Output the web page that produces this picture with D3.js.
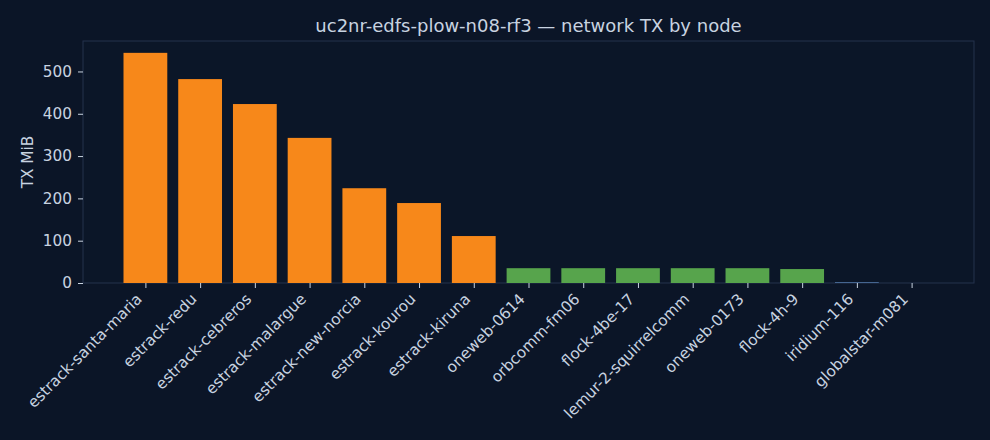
<!DOCTYPE html>
<html>
<head>
<meta charset="utf-8">
<script src="https://cdn.jsdelivr.net/npm/d3@7"></script>
<style>
  body { margin: 0; background: #0b1527; }
  svg text { font-family: "DejaVu Sans", sans-serif; fill: #c8d3e0; }
</style>
</head>
<body>
<div id="chart"></div>
<script>
// datos del grafico
var nodes = ["estrack-santa-maria", "estrack-redu", "estrack-cebreros", "estrack-malargue",
             "estrack-new-norcia", "estrack-kourou", "estrack-kiruna", "oneweb-0614",
             "orbcomm-fm06", "flock-4be-17", "lemur-2-squirrelcomm", "oneweb-0173",
             "flock-4h-9", "iridium-116", "globalstar-m081"];
var txMiB = [544, 482, 423, 343, 224, 189, 111, 35, 35, 35, 35, 35, 33, 2, 0];
var group = ["ground", "ground", "ground", "ground", "ground", "ground", "ground",
             "leo", "leo", "leo", "leo", "leo", "leo", "other", "other"];
var yTicks = [0, 100, 200, 300, 400, 500];

var width = 990;
var height = 440;
var margin = {top: 41, right: 16, bottom: 157, left: 83};

var colors = {ground: "#f7881a", leo: "#57a44c", other: "#4f72a0"};

var svg = d3.select("#chart")
            .append("svg")
            .attr("width", width)
            .attr("height", height);

svg.append("rect")
   .attr("width", width)
   .attr("height", height)
   .attr("fill", "#0b1527");

// escalas
var x = d3.scaleLinear()
          .domain([-1.14, 15.14])
          .range([margin.left, width - margin.right]);
var y = d3.scaleLinear()
          .domain([0, 572])
          .range([height - margin.bottom, margin.top]);

// marco del area
svg.append("rect")
   .attr("x", margin.left)
   .attr("y", margin.top)
   .attr("width", width - margin.left - margin.right)
   .attr("height", height - margin.top - margin.bottom)
   .attr("fill", "#0b1628")
   .attr("stroke", "#24324d")
   .attr("stroke-width", 1);

// barras
svg.append("g")
   .selectAll("rect")
   .data(txMiB)
   .enter()
   .append("rect")
   .attr("x", (d, i) => x(i - 0.4))
   .attr("width", (d, i) => x(i + 0.4) - x(i - 0.4))
   .attr("y", (d) => y(d))
   .attr("height", (d) => y(0) - y(d))
   .attr("fill", (d, i) => colors[group[i]]);

// eje y
var yAxis = svg.append("g")
               .attr("transform", `translate(${margin.left},0)`)
               .call(d3.axisLeft(y).tickValues(yTicks).tickSize(5).tickPadding(6));
yAxis.select(".domain").remove();
yAxis.selectAll("line").attr("stroke", "#c8d3e0");
yAxis.selectAll("text").style("font-size", "15.3px").attr("fill", "#c8d3e0");

// eje x
var xAxis = svg.append("g")
               .attr("transform", `translate(0,${height - margin.bottom})`)
               .call(d3.axisBottom(x)
                       .tickValues(d3.range(nodes.length))
                       .tickFormat((d) => nodes[d])
                       .tickSize(5));
xAxis.select(".domain").remove();
xAxis.selectAll("line").attr("stroke", "#c8d3e0");
xAxis.selectAll("text")
     .style("font-size", "15.3px")
     .attr("fill", "#c8d3e0")
     .attr("text-anchor", "end")
     .attr("x", 0)
     .attr("y", 0)
     .attr("dy", 0)
     .attr("transform", "translate(-3,17) rotate(-45)");

// titulo
svg.append("text")
   .attr("x", (margin.left + width - margin.right) / 2)
   .attr("y", 32)
   .attr("text-anchor", "middle")
   .style("font-size", "18px")
   .text("uc2nr-edfs-plow-n08-rf3 \u2014 network TX by node");

// etiqueta eje y
svg.append("text")
   .attr("transform", `translate(33,${(margin.top + height - margin.bottom) / 2}) rotate(-90)`)
   .attr("text-anchor", "middle")
   .style("font-size", "15.3px")
   .text("TX MiB");
</script>
</body>
</html>
